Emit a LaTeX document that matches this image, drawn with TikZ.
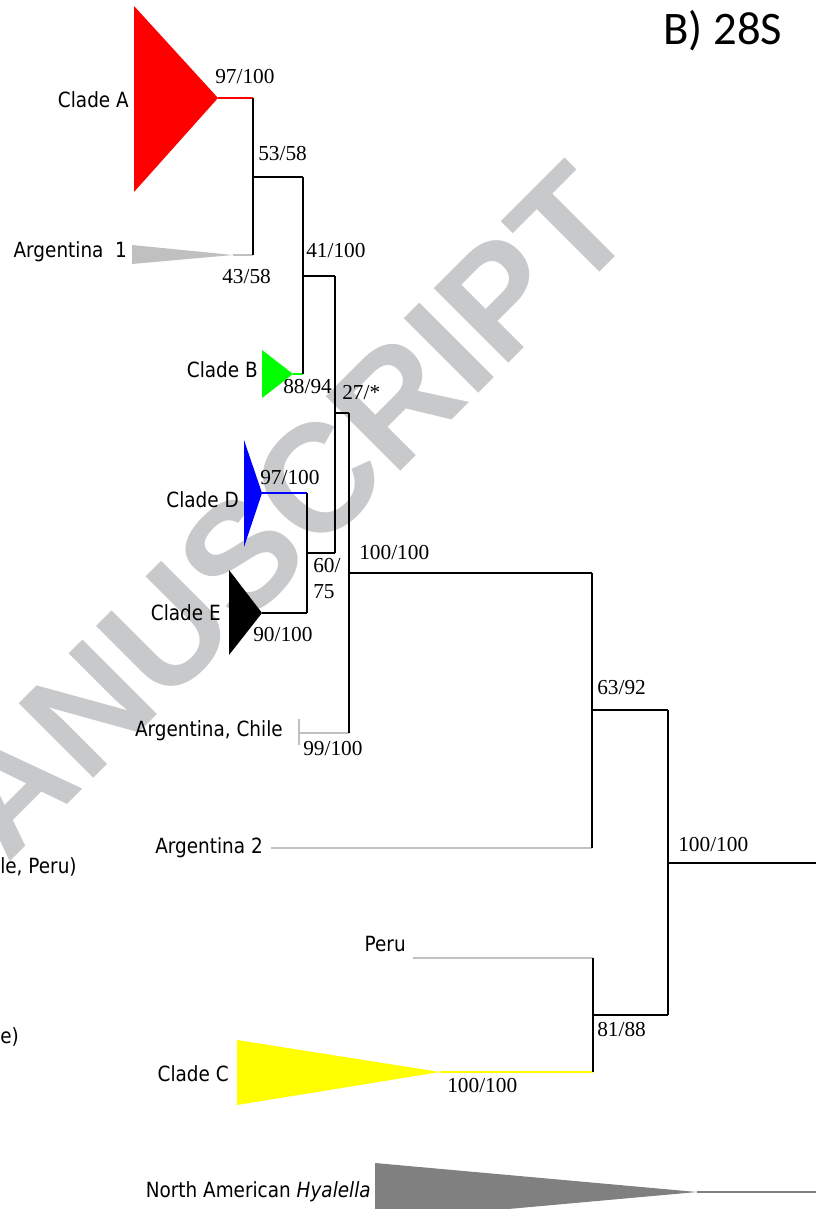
\documentclass[tikz,border=0pt]{standalone}
\usepackage{fontspec}
\setmainfont{Liberation Serif}
\newfontfamily\labfont[FakeStretch=0.88]{DejaVu Sans}
\newfontfamily\titlefont{Carlito}
\newfontfamily\wmfont{Liberation Sans}
\definecolor{wmgray}{HTML}{C8C9CB}
\definecolor{lgray}{HTML}{C0C0C0}
\definecolor{dgray}{HTML}{808080}
\definecolor{cgreen}{HTML}{00FF00}
\definecolor{cblue}{HTML}{0000FF}
\definecolor{cred}{HTML}{FF0000}
\definecolor{cyellow}{HTML}{FFFF00}
\begin{document}
\begin{tikzpicture}[x=0.75pt,y=-0.75pt,
  branch/.style={line width=1.5pt,black},
  thinbranch/.style={line width=1.1pt,black},
  graybranch/.style={line width=1.5pt,lgray},
  taxon/.style={font=\labfont\fontsize{15.7pt}{18pt}\selectfont,inner sep=0pt,anchor=east},
  support/.style={font=\fontsize{16pt}{18pt}\selectfont,inner sep=0pt,anchor=west}]
\useasboundingbox (0,0) rectangle (816,1209);
\clip (0,0) rectangle (816,1209);
% watermark
\node[wmgray,font=\wmfont\bfseries\fontsize{115pt}{120pt}\selectfont,rotate=45,anchor=base,inner sep=0pt] (wm) at (279,593) {\phantom{M}ANUSCRIPT};
% title
\node[font=\titlefont\fontsize{35pt}{40pt}\selectfont,anchor=base west,inner sep=0pt] (title) at (663,45) {B) 28S};
% internal nodes
\coordinate (v1) at (253,177);
\coordinate (v2) at (303,276);
\coordinate (v3) at (335,413);
\coordinate (vDE) at (307,553);
\coordinate (v4) at (349,573);
\coordinate (v5) at (592,710);
\coordinate (v6) at (668,863);
\coordinate (v7) at (593,1015);
\coordinate (root) at (816,863);
% tips
\coordinate (tA) at (218,98);
\coordinate (tAr1) at (233,255);
\coordinate (tB) at (293,374);
\coordinate (tD) at (262,493);
\coordinate (tE) at (262,613);
\coordinate (tAC) at (299,733);
\coordinate (tAr2) at (271,848);
\coordinate (tPe) at (413,958);
\coordinate (tC) at (440,1072);
\coordinate (tH) at (697,1192);
\coordinate (rootH) at (816,1192);
\coordinate (tickTop) at (299,719);
\coordinate (tickBot) at (299,745);
% collapsed clades
\fill[cred] (134,6) -- (134,192) -- (tA) -- cycle;
\fill[lgray] (132,245) -- (132,264) -- (tAr1) -- cycle;
\fill[cgreen] (262,350) -- (262,398) -- (tB) -- cycle;
\fill[cblue] (244,440) -- (244,547) -- (tD) -- cycle;
\fill[black] (229,570) -- (229,655) -- (tE) -- cycle;
\fill[cyellow] (237,1040) -- (237,1105) -- (tC) -- cycle;
\fill[dgray] (375,1163) -- (375,1221) -- (tH) -- cycle;
% branches
\draw[line width=1.5pt,cred] (tA) -- (tA -| v1);
\draw[graybranch] (tAr1) -- (tAr1 -| v1);
\draw[branch] (tA -| v1) -- (tAr1 -| v1);
\draw[branch] (v1) -- (v1 -| v2);
\draw[line width=1.5pt,cgreen] (tB) -- (tB -| v2);
\draw[branch] (v1 -| v2) -- (tB -| v2);
\draw[thinbranch] (v2) -- (v2 -| v3);
\draw[line width=1.5pt,cblue] (tD) -- (tD -| vDE);
\draw[branch] (tE) -- (tE -| vDE);
\draw[branch] (tD -| vDE) -- (tE -| vDE);
\draw[thinbranch] (vDE) -- (vDE -| v3);
\draw[thinbranch] (v2 -| v3) -- (vDE -| v3);
\draw[branch] (v3) -- (v3 -| v4);
\draw[line width=1.1pt,lgray] (tAC) -- (tAC -| v4);
\draw[line width=1pt,lgray] (tickTop) -- (tickBot);
\draw[branch] (v3 -| v4) -- (tAC -| v4);
\draw[thinbranch] (v4) -- (v4 -| v5);
\draw[graybranch] (tAr2) -- (tAr2 -| v5);
\draw[branch] (v4 -| v5) -- (tAr2 -| v5);
\draw[branch] (v5) -- (v5 -| v6);
\draw[graybranch] (tPe) -- (tPe -| v7);
\draw[line width=1.5pt,cyellow] (tC) -- (tC -| v7);
\draw[branch] (tPe -| v7) -- (tC -| v7);
\draw[branch] (v7) -- (v7 -| v6);
\draw[thinbranch] (v5 -| v6) -- (v7 -| v6);
\draw[thinbranch] (v6) -- (root);
\draw[line width=1.5pt,dgray] (tH) -- (rootH);
% taxon labels
\node[taxon] (lA) at (129,100) {Clade A};
\node[taxon] (lAr1) at (127,252) {Argentina\hspace{0.55em}1};
\node[taxon] (lB) at (258,370) {Clade B};
\node[taxon] (lD) at (239,500) {Clade D};
\node[taxon] (lE) at (221,613) {Clade E};
\node[taxon] (lAC) at (283,731) {Argentina, Chile};
\node[taxon] (lAr2) at (263,848) {Argentina 2};
\node[taxon] (lPe) at (406,944) {Peru};
\node[taxon] (lC) at (229,1074) {Clade C};
\node[taxon] (lH) at (371,1192) {North American \textit{Hyalella}};
\node[taxon,anchor=west] (lx1) at (0,867) {le, Peru)};
\node[taxon,anchor=west] (lx2) at (0,1037) {e)};
% support values
\node[support] (s1) at (215,77) {97/100};
\node[support] (s2) at (258,154) {53/58};
\node[support] (s3) at (222,277) {43/58};
\node[support] (s4) at (306,251) {41/100};
\node[support] (s5) at (283,387) {88/94};
\node[support] (s6) at (342,393) {27/*};
\node[support] (s7) at (260,478) {97/100};
\node[support] (s8) at (313,566) {60/};
\node[support] (s9) at (313,592) {75};
\node[support] (s10) at (253,635) {90/100};
\node[support] (s11) at (359,553) {100/100};
\node[support] (s12) at (303,749) {99/100};
\node[support] (s13) at (597,688) {63/92};
\node[support] (s14) at (678,845) {100/100};
\node[support] (s15) at (597,1029) {81/88};
\node[support] (s16) at (447,1085) {100/100};
\end{tikzpicture}
\end{document}
